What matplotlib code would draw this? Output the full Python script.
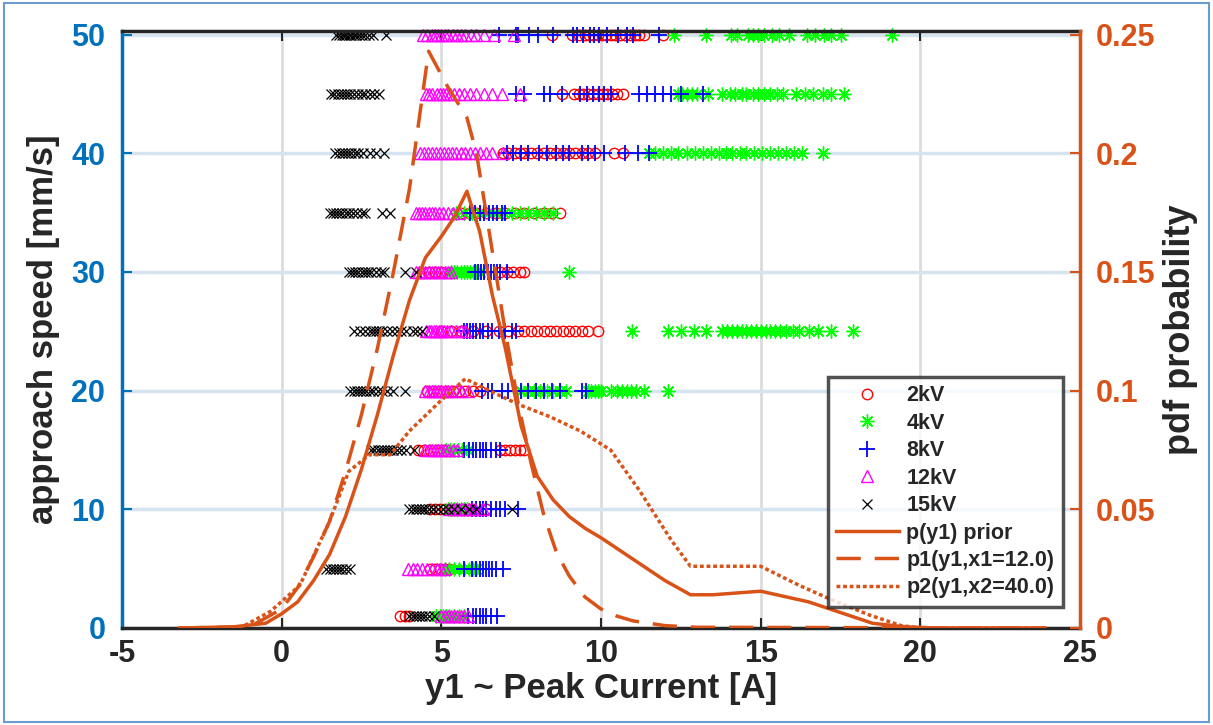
import matplotlib
matplotlib.use("Agg")
import matplotlib.pyplot as plt
from matplotlib.patches import Rectangle
from matplotlib.lines import Line2D

plt.rcParams['font.family'] = ['Liberation Sans', 'DejaVu Sans']
plt.rcParams['font.weight'] = 'bold'
plt.rcParams['axes.unicode_minus'] = False

# ---- measured peak currents [A] per approach speed [mm/s] ----
speeds = [50, 45, 40, 35, 30, 25, 20, 15, 10, 5, 1]

kv2 = {
    50: [8.45, 9.10, 9.30, 9.50, 9.62, 9.75, 9.90, 10.02, 10.15, 10.30, 10.45, 10.60, 10.75, 10.90, 11.05, 11.20, 11.35, 11.95],
    45: [8.78, 9.15, 9.30, 9.45, 9.60, 9.75, 9.90, 10.05, 10.20, 10.35, 10.50, 10.70],
    40: [6.93, 7.10, 7.30, 7.45, 7.60, 7.80, 8.00, 8.20, 8.40, 8.60, 8.80, 9.00, 9.20, 9.40, 9.60, 9.80, 10.40, 10.70],
    35: [5.60, 5.85, 6.10, 6.40, 6.70, 7.00, 7.30, 7.60, 7.90, 8.20, 8.45, 8.70],
    30: [4.60, 4.80, 5.00, 6.85, 7.05, 7.25, 7.45, 7.60],
    25: [5.00, 5.30, 5.60, 6.00, 6.40, 6.80, 7.10, 7.40, 7.60, 7.80, 8.00, 8.20, 8.40, 8.60, 8.80, 9.00, 9.20, 9.40, 9.60, 9.90],
    20: [4.55, 4.75, 4.95, 5.15, 5.35, 5.55, 5.75, 6.00, 6.20],
    15: [4.27, 4.45, 4.65, 4.85, 5.05, 6.85, 7.00, 7.15, 7.30, 7.45, 7.60],
    10: [4.65, 4.80, 4.95, 5.10, 5.25, 5.45, 5.65, 5.83, 6.40],
    5: [4.65, 4.80, 4.95, 5.10, 5.24],
    1: [3.70, 3.85, 4.00],
}
kv4 = {
    50: [12.30, 13.30, 14.07, 14.25, 14.60, 14.75, 14.90, 15.10, 15.35, 15.57, 15.90, 16.45, 16.70, 16.98, 17.20, 17.50, 19.10],
    45: [12.40, 12.55, 12.70, 12.85, 13.00, 13.35, 13.80, 14.05, 14.20, 14.40, 14.55, 14.75, 14.90, 15.10, 15.30, 15.50, 15.70, 16.10, 16.40, 16.65, 16.95, 17.20, 17.60],
    40: [11.50, 11.70, 11.95, 12.20, 12.40, 12.70, 12.95, 13.20, 13.45, 13.70, 13.90, 14.10, 14.35, 14.55, 14.80, 15.05, 15.30, 15.55, 15.80, 16.05, 16.30, 16.95],
    35: [5.45, 5.70, 5.95, 6.20, 6.45, 6.70, 6.95, 7.20, 7.45, 7.70, 7.95, 8.20, 8.50],
    30: [5.30, 5.40, 5.50, 5.60, 5.70, 5.80, 5.90, 6.00, 6.10, 6.20, 9.00],
    25: [10.97, 12.10, 12.50, 12.90, 13.30, 13.80, 13.95, 14.10, 14.25, 14.40, 14.55, 14.70, 14.85, 15.00, 15.15, 15.30, 15.45, 15.60, 15.80, 16.00, 16.20, 16.50, 16.80, 17.20, 17.90],
    20: [7.50, 7.70, 7.90, 8.10, 8.30, 8.50, 8.70, 8.90, 9.60, 9.70, 9.80, 9.90, 10.00, 10.30, 10.50, 10.65, 10.80, 10.95, 11.10, 11.35, 12.10],
    15: [5.15, 5.27, 5.40, 5.52, 5.65, 5.83],
    10: [5.20, 5.30, 5.40, 5.50, 5.60, 5.70, 5.80],
    5: [5.12, 5.25, 5.40, 5.55, 5.70, 5.85, 6.00, 6.10],
    1: [4.84, 4.95, 5.05, 5.15, 5.25, 5.40, 5.55, 5.70],
}
kv8 = {
    50: [6.80, 7.34, 7.40, 7.75, 8.03, 8.50, 9.12, 9.25, 9.44, 9.65, 9.78, 9.94, 10.19, 10.53, 10.81, 11.00, 11.82],
    45: [7.35, 7.60, 8.20, 8.40, 8.78, 9.35, 9.55, 9.75, 9.95, 10.10, 10.30, 11.20, 11.45, 11.70, 11.95, 12.20, 12.50, 13.20],
    40: [7.05, 7.25, 7.50, 7.70, 8.05, 8.30, 8.60, 8.80, 9.00, 9.40, 9.60, 9.80, 10.10, 10.75, 11.15, 11.50],
    35: [5.90, 6.05, 6.20, 6.35, 6.50, 6.62, 6.75, 6.90, 7.00],
    30: [6.05, 6.15, 6.25, 6.35, 6.45, 6.55, 6.65, 6.75, 6.85, 7.05],
    25: [5.70, 5.80, 5.90, 6.00, 6.10, 6.20, 6.30, 6.45, 6.60, 6.80, 7.00, 7.20, 7.35],
    20: [6.27, 6.45, 6.60, 6.90, 7.10, 7.30, 7.50, 7.70, 7.95, 8.20, 8.45, 8.70, 9.40, 9.53],
    15: [5.70, 5.85, 6.00, 6.10, 6.20, 6.30, 6.40, 6.55, 6.70, 6.85],
    10: [5.96, 6.10, 6.20, 6.30, 6.40, 6.55, 6.70, 6.85, 7.00, 7.40],
    5: [5.70, 5.95, 6.10, 6.20, 6.30, 6.40, 6.50, 6.60, 6.70, 6.93],
    1: [5.84, 6.00, 6.10, 6.20, 6.30, 6.40, 6.55, 6.74],
}
kv12 = {
    50: [4.43, 4.55, 4.70, 4.80, 4.90, 5.00, 5.10, 5.22, 5.35, 5.48, 5.60, 5.75, 5.92, 6.10, 6.35, 6.65, 7.28],
    45: [4.52, 4.62, 4.72, 4.85, 4.95, 5.05, 5.15, 5.28, 5.40, 5.55, 5.70, 5.90, 6.10, 6.35, 6.60, 6.90, 7.46],
    40: [4.34, 4.45, 4.58, 4.70, 4.82, 4.95, 5.08, 5.20, 5.33, 5.45, 5.60, 5.75, 5.90, 6.05, 6.20, 6.40, 6.60, 6.93],
    35: [4.20, 4.30, 4.40, 4.50, 4.60, 4.70, 4.80, 4.92, 5.05, 5.20, 5.35, 5.55],
    30: [4.20, 4.30, 4.40, 4.50, 4.60, 4.70, 4.80, 4.90, 5.00, 5.10, 5.20, 5.30],
    25: [4.52, 4.60, 4.68, 4.76, 4.84, 4.92, 5.00, 5.08, 5.18, 5.30, 5.45, 5.60, 5.75],
    20: [4.50, 4.60, 4.70, 4.80, 4.90, 5.00, 5.10, 5.20, 5.30, 5.45, 5.60, 5.84],
    15: [4.50, 4.60, 4.70, 4.80, 4.90, 5.00, 5.10, 5.20, 5.35, 5.50],
    10: [5.24, 5.35, 5.45, 5.55, 5.65, 5.75, 5.85, 5.95, 6.05, 6.30],
    5: [3.95, 4.10, 4.25, 4.40, 4.55, 4.70, 4.85, 5.00, 5.12],
    1: [5.00, 5.10, 5.20, 5.30, 5.40, 5.50, 5.60, 5.72, 5.84],
}
kv15 = {
    50: [1.70, 1.80, 1.88, 1.95, 2.02, 2.10, 2.18, 2.25, 2.33, 2.42, 2.50, 2.60, 2.72, 2.85, 3.27],
    45: [1.55, 1.65, 1.75, 1.85, 1.95, 2.05, 2.15, 2.25, 2.38, 2.50, 2.62, 2.75, 2.90, 3.05],
    40: [1.67, 1.78, 1.88, 1.98, 2.08, 2.18, 2.28, 2.40, 2.55, 2.75, 2.95, 3.20],
    35: [1.50, 1.60, 1.70, 1.80, 1.90, 2.00, 2.10, 2.22, 2.35, 2.50, 2.60, 3.15, 3.40],
    30: [2.10, 2.20, 2.30, 2.40, 2.50, 2.60, 2.70, 2.80, 2.95, 3.10, 3.20, 3.85, 4.20],
    25: [2.27, 2.45, 2.60, 2.75, 2.85, 2.95, 3.05, 3.15, 3.30, 3.45, 3.60, 3.75, 3.90, 4.10, 4.25, 4.40],
    20: [2.14, 2.25, 2.35, 2.45, 2.55, 2.65, 2.75, 2.85, 3.00, 3.15, 3.30, 3.50, 3.87],
    15: [2.80, 2.90, 3.00, 3.10, 3.20, 3.30, 3.40, 3.50, 3.60, 3.75, 3.90, 4.15],
    10: [4.00, 4.10, 4.20, 4.30, 4.40, 4.50, 4.60, 4.75, 4.90, 5.05, 5.20, 5.40, 5.60, 5.85, 6.10, 7.20],
    5: [1.40, 1.50, 1.60, 1.70, 1.80, 1.90, 2.00, 2.15],
    1: [4.00, 4.10, 4.20, 4.30, 4.40, 4.50, 4.60, 4.78],
}

# ---- probability densities of y1 ----
prior_x = [-3.2, -1.5, -0.5, 0.0, 0.5, 1.0, 1.5, 2.0, 2.5, 3.0, 3.5, 4.0, 4.5, 5.0, 5.4, 5.8,
           6.2, 6.6, 7.0, 7.5, 8.0, 8.5, 9.0, 9.5, 10.0, 11.0, 12.0, 12.8, 13.5, 14.5, 15.0,
           15.5, 16.5, 17.5, 18.5, 19.5, 20.5, 23.9]
prior_y = [0.0, 0.0005, 0.002, 0.006, 0.011, 0.020, 0.031, 0.047, 0.067, 0.090, 0.115, 0.138,
           0.156, 0.165, 0.173, 0.184, 0.167, 0.140, 0.118, 0.085, 0.064, 0.054, 0.047, 0.042,
           0.038, 0.029, 0.020, 0.014, 0.014, 0.015, 0.0155, 0.014, 0.011, 0.0065, 0.002,
           0.0005, 0.0, 0.0]

p1_x = [-3.2, -1.0, 0.0, 0.5, 1.0, 1.5, 2.0, 2.5, 3.0, 3.5, 4.0, 4.6, 5.2, 5.8, 6.1, 6.4,
        6.7, 7.0, 7.4, 7.8, 8.2, 8.6, 9.0, 9.5, 10.0, 10.5, 11.0, 12.0, 13.0, 23.9]
p1_y = [0.0, 0.0005, 0.008, 0.017, 0.030, 0.045, 0.066, 0.090, 0.118, 0.150, 0.185, 0.243,
        0.228, 0.215, 0.200, 0.175, 0.150, 0.125, 0.095, 0.070, 0.048, 0.032, 0.022, 0.013,
        0.008, 0.005, 0.003, 0.001, 0.0003, 0.0]

p2_x = [-3.2, -1.3, -0.35, 0.57, 1.5, 2.1, 2.75, 3.4, 4.0, 5.0, 5.75, 6.5, 7.45, 8.4, 9.35,
        10.3, 11.2, 12.2, 12.8, 15.0, 16.2, 17.2, 18.4, 19.4, 20.0, 23.9]
p2_y = [0.0, 0.0, 0.007, 0.018, 0.045, 0.066, 0.073, 0.073, 0.083, 0.096, 0.105, 0.100,
        0.094, 0.089, 0.083, 0.075, 0.058, 0.037, 0.026, 0.026, 0.018, 0.012, 0.0055, 0.001,
        0.0, 0.0]

labels = ['2kV', '4kV', '8kV', '12kV', '15kV']
x_ticks = [-5, 0, 5, 10, 15, 20, 25]
y_ticks = [0, 10, 20, 30, 40, 50]
p_ticks = [0, 0.05, 0.1, 0.15, 0.2, 0.25]
p_tick_labels = ['0', '0.05', '0.1', '0.15', '0.2', '0.25']

BLUE = '#0072BD'
ORANGE = '#D95319'
DARK = '#262626'

groups = [
    (kv2, dict(marker='o', color='red', mfc='none', ms=7.5, mew=1.0)),
    (kv4, dict(marker=(8, 2, 0), color='#00FF00', ms=10, mew=1.0)),
    (kv8, dict(marker='+', color='blue', ms=11, mew=1.3)),
    (kv12, dict(marker='^', color='magenta', mfc='none', ms=8, mew=1.0)),
    (kv15, dict(marker='x', color='black', ms=7.5, mew=0.9)),
]

fig = plt.figure(figsize=(12.13, 7.25), dpi=100)
fig.patches.append(Rectangle((0.003, 0.004), 0.994, 0.992, transform=fig.transFigure,
                             fill=False, edgecolor='#6C9BD2', linewidth=1.5))

ax = fig.add_axes([0.1006, 0.1338, 0.7898, 0.8234])
Y_TOP = 50.3
ax.set_xlim(-5, 25)
ax.set_ylim(0, Y_TOP)

# grid lines
for xv in x_ticks[1:-1]:
    ax.axvline(xv, color='#DCDCDC', lw=2.0, zorder=0)
for yv in y_ticks[1:]:
    ax.axhline(yv, color='#D6E4F1', lw=2.5, zorder=0)

handles = []
for (grp, style), lab in zip(groups, labels):
    for s in speeds:
        vals = grp[s]
        ax.plot(vals, [s] * len(vals), ls='none', zorder=2, clip_on=False, **style)
    handles.append(Line2D([], [], ls='none', label=lab, **style))

ax.set_xticks(x_ticks)
ax.set_yticks(y_ticks)
ax.tick_params(axis='x', direction='in', length=7, width=1.5, colors=DARK, labelsize=22,
               top=True, pad=8)
ax.tick_params(axis='y', direction='in', length=7, width=1.5, colors=BLUE, labelsize=22, pad=12)
for t in ax.get_xticklabels() + ax.get_yticklabels():
    t.set_fontweight('bold')
ax.spines['left'].set_color(BLUE)
ax.spines['left'].set_linewidth(2.5)
for side in ('top', 'bottom'):
    ax.spines[side].set_color(DARK)
    ax.spines[side].set_linewidth(2.5)
ax.spines['right'].set_visible(False)
ax.set_xlabel('y1 ~ Peak Current [A]', fontsize=25, fontweight='bold', color=DARK, labelpad=2)
ax.set_ylabel('approach speed [mm/s]', fontsize=25, fontweight='bold', color=DARK, labelpad=8)

ax2 = ax.twinx()
ax2.set_ylim(0, 0.25 * Y_TOP / 50)
l1, = ax2.plot(prior_x, prior_y, color=ORANGE, lw=2.5, ls='-', label='p(y1) prior')
l2, = ax2.plot(p1_x, p1_y, color=ORANGE, lw=2.5, ls=(0, (7, 4)), label='p1(y1,x1=12.0)')
l3, = ax2.plot(p2_x, p2_y, color=ORANGE, lw=2.5, ls=(0, (1.1, 0.8)), label='p2(y1,x2=40.0)')
ax2.set_yticks(p_ticks)
ax2.set_yticklabels(p_tick_labels)
ax2.tick_params(axis='y', direction='in', length=7, width=1.5, colors=ORANGE, labelsize=22, pad=11)
for t in ax2.get_yticklabels():
    t.set_fontweight('bold')
for side in ('left', 'top', 'bottom'):
    ax2.spines[side].set_visible(False)
ax2.spines['right'].set_color(ORANGE)
ax2.spines['right'].set_linewidth(2.5)
ax2.set_ylabel('pdf probability', fontsize=26, fontweight='bold', color=DARK, labelpad=6)

leg = ax2.legend(handles=handles + [l1, l2, l3], loc='lower right',
                 bbox_to_anchor=(0.982, 0.035), fontsize=15.5, frameon=True, fancybox=False,
                 handlelength=2.9, handletextpad=0.35, borderpad=0.4, labelspacing=0.3,
                 borderaxespad=0.0)
leg.get_frame().set_edgecolor(DARK)
leg.get_frame().set_linewidth(2.5)
for t in leg.get_texts():
    t.set_fontweight('bold')
    t.set_color(DARK)

fig.savefig('out.png', dpi=100, facecolor='white')
